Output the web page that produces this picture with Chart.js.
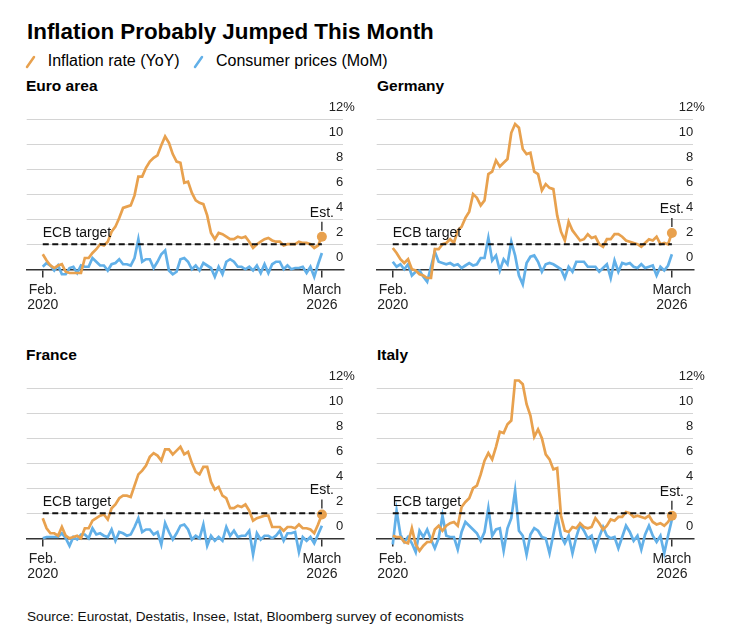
<!DOCTYPE html>
<html>
<head>
<meta charset="utf-8">
<script src="https://cdn.jsdelivr.net/npm/chart.js@4.4.1/dist/chart.umd.min.js"></script>
<style>
  body { margin: 0; background: #fff; font-family: 'Liberation Sans', Arial, sans-serif; color: #000; }
  #page { position: relative; width: 729px; height: 636px; overflow: hidden; }
  .txt { position: absolute; white-space: nowrap; }
  .panel-title { font-weight: bold; font-size: 15.5px; line-height: 15.5px; }
  canvas { position: absolute; }
</style>
</head>
<body>
<div id="page">
  <div class="txt" style="left:27px;top:21px;font-size:22.4px;line-height:22.4px;font-weight:bold;">Inflation Probably Jumped This Month</div>
  <svg class="txt" style="left:25px;top:55px" width="12" height="14"><line x1="2" y1="12" x2="9" y2="2" stroke="#E8A14E" stroke-width="2.5" stroke-linecap="round"/></svg>
  <div class="txt" style="left:47.7px;top:53px;font-size:16px;line-height:16px;">Inflation rate (YoY)</div>
  <svg class="txt" style="left:193px;top:55px" width="12" height="14"><line x1="2" y1="12" x2="9" y2="2" stroke="#62B0E8" stroke-width="2.5" stroke-linecap="round"/></svg>
  <div class="txt" style="left:216px;top:53px;font-size:16px;line-height:16px;">Consumer prices (MoM)</div>

  <div class="txt panel-title" style="left:26px;top:77.9px;">Euro area</div>
  <div class="txt panel-title" style="left:377px;top:77.9px;">Germany</div>
  <div class="txt panel-title" style="left:26px;top:346.9px;">France</div>
  <div class="txt panel-title" style="left:377px;top:346.9px;">Italy</div>

  <canvas id="euroChart" width="345" height="235" style="left:20px;top:95px;width:345px;height:235px"></canvas>
  <canvas id="germanyChart" width="345" height="235" style="left:370px;top:95px;width:345px;height:235px"></canvas>
  <canvas id="franceChart" width="345" height="235" style="left:20px;top:364.3px;width:345px;height:235px"></canvas>
  <canvas id="italyChart" width="345" height="235" style="left:370px;top:364.3px;width:345px;height:235px"></canvas>

  <div class="txt" style="left:27px;top:609.5px;font-size:13.6px;line-height:13.6px;color:#111;">Source: Eurostat, Destatis, Insee, Istat, Bloomberg survey of economists</div>
</div>

<script>
// Feb. 2020 .. March 2026, one point per month
const months = [];
for (let i = 0; i < 74; i++) {
	const d = new Date(2020, 1 + i, 1);
	months.push(d.getFullYear() + '-' + String(d.getMonth() + 1).padStart(2, '0'));
}

const xTickValues = [0, 73];
const xTickLabels = [['Feb.', '2020'], ['March', '2026']];
const yTickValues = [0, 2, 4, 6, 8, 10, 12];
const ecbTarget = 2;

// Inflation rate (YoY), %
const euroYoY = [1.2, 0.7, 0.3, 0.1, 0.3, 0.4, -0.2, -0.3, -0.3, -0.3, -0.3,
	0.9, 0.9, 1.3, 1.6, 2.0, 1.9, 2.2, 3.0, 3.4, 4.1, 4.9, 5.0,
	5.1, 5.9, 7.4, 7.4, 8.1, 8.6, 8.9, 9.1, 9.9, 10.6, 10.1, 9.2,
	8.6, 8.5, 6.9, 7.0, 6.1, 5.5, 5.3, 5.2, 4.3, 2.9, 2.4, 2.9,
	2.8, 2.6, 2.4, 2.4, 2.6, 2.5, 2.6, 2.2, 1.7, 2.0, 2.2, 2.4,
	2.5, 2.3, 2.2, 2.2, 1.9, 2.0, 2.0, 2.0, 2.2, 2.1, 2.1, 2.0,
	1.7, 1.9, 2.6];
const germanyYoY = [1.7, 1.3, 0.8, 0.5, 0.8, 0.0, -0.1, -0.4, -0.5, -0.7, -0.7,
	1.6, 1.6, 2.0, 2.1, 2.4, 2.1, 3.1, 3.4, 4.1, 4.6, 6.0, 5.7,
	5.1, 5.5, 7.6, 7.8, 8.7, 8.2, 8.5, 8.8, 10.9, 11.6, 11.3, 9.6,
	9.2, 9.3, 7.8, 7.6, 6.3, 6.8, 6.5, 6.4, 4.3, 3.0, 2.3, 3.8,
	3.1, 2.7, 2.3, 2.4, 2.8, 2.5, 2.6, 2.0, 1.8, 2.4, 2.4, 2.8,
	2.8, 2.6, 2.3, 2.2, 2.1, 2.0, 1.8, 2.1, 2.4, 2.3, 2.6, 2.0,
	2.1, 2.0, 2.9];
const franceYoY = [1.6, 0.8, 0.4, 0.4, 0.2, 0.9, 0.2, 0.0, 0.1, 0.2, 0.0,
	0.8, 0.8, 1.4, 1.6, 1.8, 1.9, 1.5, 2.4, 2.7, 3.2, 3.4, 3.4,
	3.3, 4.2, 5.1, 5.4, 5.8, 6.5, 6.8, 6.6, 6.2, 7.1, 7.1, 6.7,
	7.0, 7.3, 6.7, 6.9, 6.0, 5.3, 5.1, 5.7, 5.7, 4.5, 3.9, 4.1,
	3.4, 3.2, 2.4, 2.4, 2.6, 2.5, 2.7, 2.2, 1.4, 1.6, 1.7, 1.8,
	1.8, 0.9, 0.9, 0.9, 0.6, 0.9, 0.9, 0.8, 1.1, 0.8, 0.8, 0.7,
	0.4, 1.1, 1.9];
const italyYoY = [0.2, 0.1, 0.1, -0.3, -0.4, 0.8, -0.5, -1.0, -0.6, -0.3, -0.3,
	0.7, 1.0, 0.6, 1.0, 1.2, 1.3, 1.0, 2.5, 2.9, 3.2, 4.0, 4.2,
	5.1, 6.2, 6.8, 6.3, 7.3, 8.5, 8.4, 9.1, 9.4, 12.6, 12.6, 12.3,
	10.7, 9.8, 8.1, 8.7, 8.0, 6.7, 6.3, 5.5, 5.6, 1.8, 0.6, 0.5,
	0.9, 0.8, 1.2, 0.9, 0.8, 0.9, 1.6, 1.2, 0.7, 1.0, 1.5, 1.4,
	1.7, 1.7, 2.1, 2.0, 1.7, 1.8, 1.7, 1.6, 1.8, 1.3, 1.1, 1.2,
	1.0, 1.3, 1.8];

// Consumer prices (MoM), %
const euroMoM = [0.2, 0.5, 0.3, -0.1, 0.3, -0.4, -0.4, 0.1, 0.2, -0.3, 0.3,
	0.2, 0.2, 0.9, 0.6, 0.3, 0.3, -0.1, 0.4, 0.5, 0.8, 0.4, 0.4,
	0.3, 0.9, 2.4, 0.6, 0.8, 0.8, 0.1, 0.6, 1.2, 1.5, -0.1, -0.4,
	-0.2, 0.8, 0.9, 0.6, 0.0, 0.3, -0.1, 0.5, 0.3, 0.1, -0.6, 0.2,
	-0.4, 0.6, 0.8, 0.6, 0.2, 0.2, 0.0, 0.2, -0.1, 0.3, -0.3, 0.4,
	-0.3, 0.4, 0.6, 0.6, 0.0, 0.3, 0.0, 0.1, 0.1, 0.2, -0.3, 0.2,
	-0.6, 0.4, 1.3];
const germanyMoM = [0.6, 0.2, 0.4, 0.0, 0.4, -0.5, -0.2, -0.1, -0.6, -1.0, 0.2,
	1.4, 0.6, 0.5, 0.4, 0.5, 0.3, 0.4, 0.1, 0.3, 0.5, 0.3, 0.4,
	0.9, 0.9, 2.5, 0.7, 1.1, -0.1, 0.8, 0.4, 2.2, 1.1, -0.5, -1.2,
	0.5, 1.0, 1.1, 0.6, -0.2, 0.4, 0.5, 0.4, 0.2, 0.0, -0.7, 0.2,
	-0.2, 0.6, 0.6, 0.6, 0.2, 0.2, 0.2, -0.2, 0.1, 0.4, -0.7, 0.7,
	-0.2, 0.5, 0.4, 0.5, 0.2, 0.1, 0.4, 0.1, 0.2, 0.3, -0.5, 0.2,
	-0.1, 0.3, 1.2];
const franceMoM = [0.0, 0.1, 0.1, 0.1, 0.1, 0.4, 0.0, -0.6, 0.1, -0.1, 0.3,
	0.3, 0.0, 0.8, 0.3, 0.4, 0.2, 0.1, 0.7, -0.2, 0.5, 0.4, 0.2,
	0.3, 0.9, 1.6, 0.5, 0.7, 0.7, 0.3, 0.5, -0.5, 1.2, 0.5, -0.1,
	0.4, 1.0, 1.1, 0.7, -0.1, 0.2, 0.0, 1.1, -0.6, 0.2, -0.2, 0.1,
	-0.2, 0.9, 0.2, 0.6, 0.1, 0.2, 0.2, 0.6, -1.3, 0.4, -0.1, 0.2,
	0.2, 0.0, 0.2, 0.6, -0.2, 0.4, 0.4, 0.5, -1.1, 0.1, -0.2, 0.1,
	-0.4, 0.3, 1.0];
const italyMoM = [-0.5, 2.2, 0.3, -0.3, 0.1, -0.4, -1.1, 0.6, 0.1, 0.7, -0.1,
	-0.8, 0.0, 1.8, 0.2, 0.1, 0.1, -0.9, 0.5, 1.3, 1.0, 0.7, 0.4,
	-0.2, 0.5, 2.4, 0.2, 0.7, 0.8, -1.0, 0.8, 1.6, 3.8, 0.6, 0.2,
	-1.3, 0.3, 0.8, 0.6, 0.1, 0.0, -1.2, 0.3, 1.8, 0.2, -0.4, 0.2,
	-1.2, 0.1, 1.1, 0.6, 0.0, 0.2, -0.9, 0.1, 0.9, 0.2, 0.0, 0.1,
	-0.8, 0.1, 1.0, 0.5, -0.2, 0.2, -0.9, 0.3, 1.0, 0.2, -0.3, 0.2,
	-1.2, 0.2, 1.5];

const orange = '#E8A14E';
const blue = '#62B0E8';
const fontFamily = "'Liberation Sans', Arial, sans-serif";
Chart.defaults.font.family = fontFamily;

// labels drawn on top of the series: ECB target, Est. marker, % sign
const notesPlugin = {
	id: 'notes',
	afterDatasetsDraw(chart) {
		const {ctx, chartArea, scales: {x, y}} = chart;
		ctx.save();
		ctx.fillStyle = '#111';
		ctx.font = '14px ' + fontFamily;
		ctx.textBaseline = 'middle';
		ctx.textAlign = 'left';
		ctx.fillText('ECB target', x.getPixelForValue(0), y.getPixelForValue(ecbTarget) - 11);

		const meta = chart.getDatasetMeta(1);
		const last = meta.data[meta.data.length - 1];
		ctx.strokeStyle = '#111';
		ctx.lineWidth = 1.2;
		ctx.beginPath();
		ctx.moveTo(last.x, last.y - 6);
		ctx.lineTo(last.x, last.y - 15);
		ctx.stroke();
		ctx.textAlign = 'center';
		ctx.fillText('Est.', last.x, last.y - 24);

		// percent sign hangs after the top tick label
		ctx.font = '13px ' + fontFamily;
		ctx.textAlign = 'left';
		ctx.fillStyle = '#222';
		ctx.fillText('%', chartArea.right, y.getPixelForValue(12) - 12);
		ctx.restore();
	}
};

function makeChart(id, yoy, mom) {
	return new Chart(document.getElementById(id), {
		type: 'line',
		data: {
			datasets: [
				{
					data: [{x: 0, y: ecbTarget}, {x: 73, y: ecbTarget}],
					borderColor: '#111',
					borderWidth: 2,
					borderDash: [6, 3.5],
					pointRadius: 0,
					clip: false,
				},
				{
					data: yoy.map((v, i) => ({x: i, y: v})),
					borderColor: orange,
					borderWidth: 2.7,
					pointRadius: (c) => c.dataIndex === yoy.length - 1 ? 5 : 0,
					pointBackgroundColor: orange,
					pointBorderWidth: 0,
					clip: false,
				},
				{
					data: mom.map((v, i) => ({x: i, y: v})),
					borderColor: blue,
					borderWidth: 2.7,
					pointRadius: 0,
					clip: false,
				},
			]
		},
		options: {
			responsive: false,
			animation: false,
			layout: {padding: {left: 6.7, right: 21.7, top: 24, bottom: 35.7}},
			plugins: {
				legend: {display: false},
				tooltip: {enabled: false},
			},
			scales: {
				x: {
					type: 'linear',
					position: {y: 0},
					min: -4.2,
					max: 78.6,
					afterBuildTicks: (scale) => { scale.ticks = xTickValues.map(v => ({value: v})); },
					grid: {drawOnChartArea: false, drawTicks: true, tickLength: 7, color: '#333', lineWidth: 1.5},
					border: {display: true, color: '#333', width: 1.5},
					ticks: {
						autoSkip: false,
						maxRotation: 0,
						padding: 6,
						color: '#222',
						font: {size: 14, lineHeight: 1.1},
						callback: (value) => xTickLabels[xTickValues.indexOf(value)],
					},
				},
				y: {
					position: 'right',
					min: -2,
					max: 12,
					afterBuildTicks: (scale) => { scale.ticks = yTickValues.map(v => ({value: v})); },
					grid: {
						drawTicks: false,
						lineWidth: 1,
						color: (c) => c.tick && c.tick.value === 0 ? 'rgba(0,0,0,0)' : '#d4d4d4',
					},
					border: {display: false},
					ticks: {
						mirror: true,
						padding: 0,
						labelOffset: -12,
						color: '#222',
						font: {size: 13},
						callback: (value) => String(value),
					},
				},
			}
		},
		plugins: [notesPlugin]
	});
}

const euroChart = makeChart('euroChart', euroYoY, euroMoM);
const germanyChart = makeChart('germanyChart', germanyYoY, germanyMoM);
const franceChart = makeChart('franceChart', franceYoY, franceMoM);
const italyChart = makeChart('italyChart', italyYoY, italyMoM);
</script>
</body>
</html>
